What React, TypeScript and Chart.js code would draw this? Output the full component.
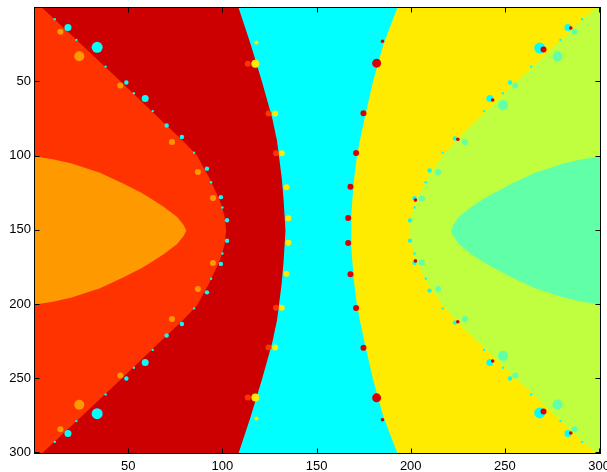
import React, { useEffect, useRef } from 'react';
import { Chart, registerables } from 'chart.js';

Chart.register(...registerables);

// axis ticks
const xTicks = [50, 100, 150, 200, 250, 300];
const yTicks = [50, 100, 150, 200, 250, 300];

// region boundaries (x position of each boundary at the given row y)
const boundaryY = [0, 25, 50, 75, 90, 100, 115, 130, 140, 150.5, 161, 171, 186, 201, 211, 226, 251, 276, 301];
const redOrangeEdgeX = [4, 25, 46, 66.5, 79, 86.5, 93, 98.5, 101, 102, 101, 98.5, 93, 86.5, 79, 66.5, 46, 25, 4];
const darkRedEdgeX = [108.5, 115, 121, 126.5, 129, 130, 131.5, 132.5, 133, 133.5, 133, 132.5, 131.5, 130, 129, 126.5, 121, 115, 108.5];
const cyanEdgeX = [193, 185.5, 180, 175.5, 173, 171.5, 170, 169, 168.5, 168.3, 168.5, 169, 170, 171.5, 173, 175.5, 180, 185.5, 193];
const yellowEdgeX = [298.5, 277.5, 256.5, 236, 224, 217, 209, 203, 200.5, 199.5, 200.5, 203, 209, 217, 224, 236, 256.5, 277.5, 298.5];

// tongues
const tongueY = [100.5, 102.5, 105.3, 111.5, 118.7, 125, 129, 134.7, 141.4, 147, 150.5, 154, 159.6, 166.3, 172, 176, 182.3, 189.5, 195.7, 198.5, 200.5];
const orangeTongueX = [0, 10, 20, 35, 47, 57, 62, 69, 76, 79.5, 80.8, 79.5, 76, 69, 62, 57, 47, 35, 20, 10, 0];
const mintTongueX = [301, 291, 281, 266, 254, 244.5, 239, 232, 225.5, 222.5, 221.5, 222.5, 225.5, 232, 239, 244.5, 254, 266, 281, 291, 301];

// satellite blobs [x, y]
const cyanBlobsLarge = [[33.5, 27], [33.5, 274], [268.5, 27.5], [268.5, 273.5]];
const cyanBlobsMid = [[59, 61.5], [59, 239.5], [242, 61.5], [242, 239.5], [18, 13.6], [18, 287.4], [283.5, 13.6], [283.5, 287.4]];
const cyanBlobsSmall = [
  [49, 50.7], [70.4, 79.7], [78.5, 87.5], [91.8, 108.8], [99.2, 128], [102.5, 143.6],
  [102.5, 157.4], [99.2, 173], [91.8, 192.2], [78.5, 213.5], [70.4, 221.3], [49, 250.3],
  [252.7, 50.7], [223.5, 88.4], [210, 110], [202, 128.8], [199.6, 143.7],
  [199.6, 157.3], [202, 172.2], [210, 191], [223.5, 212.6], [252.7, 250.3],
];
const cyanDots = [
  [11, 8], [22.5, 22], [38, 40], [53, 58], [63, 70], [85, 98], [94, 118], [100, 135],
  [100, 166], [94, 183], [85, 203], [63, 231], [53, 243], [38, 261], [22.5, 279], [11, 293],
  [291, 8], [279.5, 22], [264, 40], [249, 58], [239, 70], [217, 98], [208, 118], [202, 135],
  [202, 166], [208, 183], [217, 203], [239, 231], [249, 243], [264, 261], [279.5, 279], [291, 293],
];
const redBlobsLarge = [[181.9, 37.7], [181.9, 263.3]];
const redBlobsMid = [
  [174.9, 71.4], [171, 98.3], [168, 121], [166.8, 142],
  [166.8, 159], [168, 180], [171, 202.7], [174.9, 229.6],
  [270.5, 28.5], [270.5, 272.5],
];
const redBlobsSmall = [
  [185, 22.9], [185, 278.1], [243.5, 62.5], [243.5, 238.5], [285, 14], [285, 287],
  [225, 89], [225, 212], [202.5, 130], [202.5, 171],
];
const yellowBlobsLarge = [[117.5, 38], [117.5, 263]];
const yellowBlobsMid = [
  [128, 71.6], [128, 229.4], [131.5, 98.5], [131.5, 202.5],
  [134, 121.4], [134, 179.6], [135, 142.3], [135, 158.7],
];
const yellowBlobsSmall = [[118, 23.7], [118, 277.3]];
const redOrangeBlobs = [[113.5, 38], [113.5, 263], [124.5, 71.6], [124.5, 229.4], [128.5, 98.5], [128.5, 202.5]];
const orangeBlobsLarge = [[24, 33], [24, 268]];
const orangeBlobsMid = [
  [14, 16.5], [14, 284.5], [45.8, 52.7], [45.8, 248.3], [73.2, 90.9], [73.2, 210.1],
  [87, 111], [87, 190], [95, 128.6], [95, 172.4],
];
const mintBlobsLarge = [[278, 33.2], [278, 267.8], [249, 66], [249, 235]];
const mintBlobsMid = [
  [287, 16.5], [287, 284.5], [255.5, 52.7], [255.5, 248.3], [228.8, 90.9], [228.8, 210.1],
  [214.5, 111], [214.5, 190], [205.8, 129], [205.8, 172],
];

const COLORS = {
  darkRed: '#CC0000',
  redOrange: '#FF3300',
  orange: '#FF9900',
  cyan: '#00FFFF',
  yellow: '#FFEB00',
  lightGreen: '#BFFF40',
  mint: '#60FFA8',
  red: '#D80000',
};

const leftRegion = (edge: number[]) => [
  { x: 0, y: 0 },
  ...edge.map((x, i) => ({ x, y: boundaryY[i] })),
  { x: 0, y: 301 },
];

const polygon = (data: any[], color: string, order: number) => ({
  data,
  showLine: true,
  fill: 'shape',
  backgroundColor: color,
  borderColor: color,
  borderWidth: 0,
  pointRadius: 0,
  tension: 0,
  order,
});

const blobs = (pts: number[][], color: string, r: number, order: number) => ({
  data: pts.map(([x, y]) => ({ x, y })),
  showLine: false,
  backgroundColor: color,
  borderWidth: 0,
  pointRadius: r,
  pointStyle: 'circle',
  order,
});

const framePlugin = {
  id: 'frameTicks',
  afterDraw(chart: any) {
    const { ctx, chartArea: a, scales } = chart;
    ctx.save();
    ctx.strokeStyle = '#000';
    ctx.lineWidth = 1;
    const L = Math.round(a.left) - 0.5;
    const T = Math.round(a.top) - 0.5;
    const R = Math.round(a.right) + 0.5;
    const B = Math.round(a.bottom) + 0.5;
    ctx.strokeRect(L, T, R - L, B - T);
    ctx.beginPath();
    for (const v of xTicks) {
      const p = Math.round(scales.x.getPixelForValue(v)) + 0.5;
      ctx.moveTo(p, B); ctx.lineTo(p, B - 5);
      ctx.moveTo(p, T); ctx.lineTo(p, T + 5);
    }
    for (const v of yTicks) {
      const p = Math.round(scales.y.getPixelForValue(v)) + 0.5;
      ctx.moveTo(L, p); ctx.lineTo(L + 5, p);
      ctx.moveTo(R, p); ctx.lineTo(R - 5, p);
    }
    ctx.stroke();
    ctx.restore();
  },
};

export default function App() {
  const ref = useRef<HTMLCanvasElement>(null);
  useEffect(() => {
    if (!ref.current) return;
    Chart.defaults.font.family = '"Liberation Sans", Arial, Helvetica, sans-serif';
    Chart.defaults.font.size = 13;
    Chart.defaults.color = '#000';
    const datasets: any[] = [
      polygon([{ x: 0, y: 0 }, { x: 301, y: 0 }, { x: 301, y: 301 }, { x: 0, y: 301 }], COLORS.lightGreen, 20),
      polygon(leftRegion(yellowEdgeX), COLORS.yellow, 19),
      polygon(leftRegion(cyanEdgeX), COLORS.cyan, 18),
      polygon(leftRegion(darkRedEdgeX), COLORS.darkRed, 17),
      polygon(leftRegion(redOrangeEdgeX), COLORS.redOrange, 16),
      polygon(orangeTongueX.map((x, i) => ({ x, y: tongueY[i] })), COLORS.orange, 15),
      polygon(mintTongueX.map((x, i) => ({ x, y: tongueY[i] })), COLORS.mint, 14),
      blobs(orangeBlobsLarge, COLORS.orange, 5, 10),
      blobs(orangeBlobsMid, COLORS.orange, 3, 10),
      blobs(mintBlobsLarge, COLORS.mint, 5, 10),
      blobs(mintBlobsMid, COLORS.mint, 3, 10),
      blobs(redOrangeBlobs, COLORS.redOrange, 3, 9),
      blobs(yellowBlobsLarge, COLORS.yellow, 4, 8),
      blobs(yellowBlobsMid, COLORS.yellow, 3, 8),
      blobs(yellowBlobsSmall, COLORS.yellow, 2, 8),
      blobs(cyanBlobsLarge, COLORS.cyan, 5.5, 7),
      blobs(cyanBlobsMid, COLORS.cyan, 3.5, 7),
      blobs(cyanBlobsSmall, COLORS.cyan, 2.2, 7),
      blobs(cyanDots, COLORS.cyan, 1.2, 7),
      blobs(redBlobsLarge, COLORS.red, 4.5, 6),
      blobs(redBlobsMid, COLORS.red, 3, 6),
      blobs(redBlobsSmall, COLORS.red, 1.8, 5),
    ];
    const chart = new Chart(ref.current, {
      type: 'scatter',
      data: { datasets },
      plugins: [framePlugin],
      options: {
        animation: false,
        responsive: false,
        devicePixelRatio: 1,
        events: [],
        layout: { padding: { left: 0, top: 8, right: 40, bottom: 0 } },
        plugins: { legend: { display: false }, tooltip: { enabled: false } },
        scales: {
          x: {
            type: 'linear',
            min: 0.5,
            max: 300.5,
            grid: { display: false, drawTicks: false },
            border: { display: false },
            ticks: { padding: 6, maxRotation: 0, autoSkip: false },
            afterBuildTicks: (s: any) => { s.ticks = xTicks.map((value) => ({ value })); },
            afterFit: (s: any) => { s.height = 19; s.paddingLeft = 0; s.paddingRight = 0; },
          },
          y: {
            type: 'linear',
            reverse: true,
            min: 0.5,
            max: 300.5,
            grid: { display: false, drawTicks: false },
            border: { display: false },
            ticks: { padding: 4, autoSkip: false },
            afterBuildTicks: (s: any) => { s.ticks = yTicks.map((value) => ({ value })); },
            afterFit: (s: any) => { s.width = 35; s.paddingTop = 0; s.paddingBottom = 0; },
          },
        },
      } as any,
    });
    return () => chart.destroy();
  }, []);
  return (
    <div style={{ position: 'fixed', left: 0, top: 0, width: 607, height: 472, overflow: 'hidden', background: '#fff' }}>
      <canvas ref={ref} width={640} height={472} style={{ display: 'block', width: 640, height: 472 }} />
    </div>
  );
}
